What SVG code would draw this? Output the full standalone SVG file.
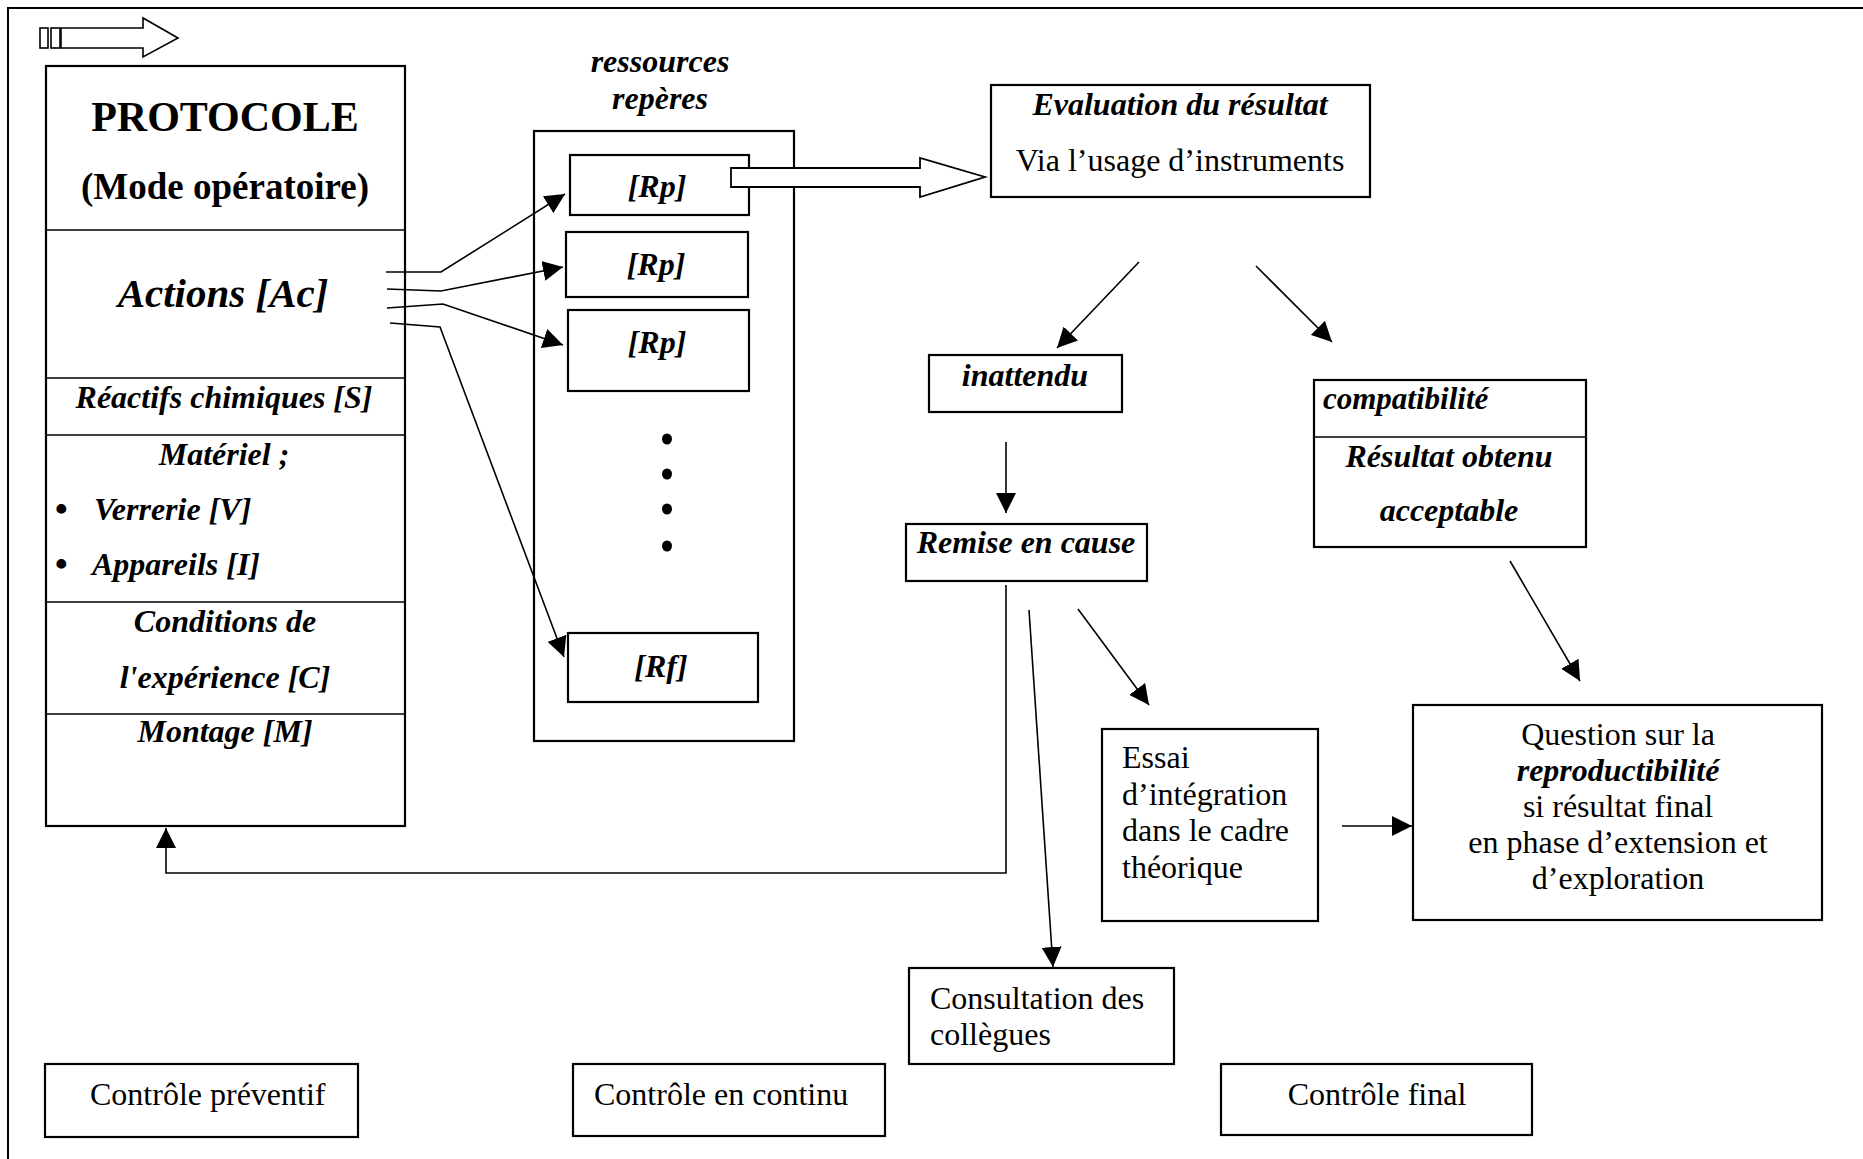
<svg xmlns="http://www.w3.org/2000/svg" width="1863" height="1159" viewBox="0 0 1863 1159">
<style>
.box{fill:#fff;stroke:#000;stroke-width:2.2}
.ln{fill:none;stroke:#000;stroke-width:1.6}
.r{font-family:"Liberation Serif","Times New Roman",serif;font-size:32px;fill:#000}
.bi{font-family:"Liberation Serif","Times New Roman",serif;font-size:32px;font-weight:bold;font-style:italic;fill:#000}
.b{font-family:"Liberation Serif","Times New Roman",serif;font-weight:bold;fill:#000}
.c{text-anchor:middle}
</style>
<defs>
<marker id="ah" markerUnits="userSpaceOnUse" markerWidth="22" markerHeight="20" refX="20" refY="10" orient="auto">
<path d="M0,0 L20,10 L0,20 z" fill="#000"/>
</marker>
</defs>
<rect width="1863" height="1159" fill="#fff"/>
<g id="frame">
<path d="M8,1159 V8 H1863" fill="none" stroke="#000" stroke-width="2"/>
</g>
<g id="start-arrow">
<rect x="40" y="28" width="8" height="20" fill="#fff" stroke="#000" stroke-width="1.6"/>
<rect x="51" y="28" width="9" height="20" fill="#fff" stroke="#000" stroke-width="1.6"/>
<path d="M61,28 H143 V18 L178,38 L143,57 V48 H61 z" fill="#fff" stroke="#000" stroke-width="1.6"/>
</g>
<g id="protocole">
<rect class="box" x="46" y="66" width="359" height="760"/>
<line class="ln" x1="46" y1="230" x2="405" y2="230" stroke-width="2.2"/>
<line class="ln" x1="46" y1="378" x2="405" y2="378" stroke-width="2.2"/>
<line class="ln" x1="46" y1="435" x2="405" y2="435" stroke-width="2.2"/>
<line class="ln" x1="46" y1="602" x2="405" y2="602" stroke-width="2.2"/>
<line class="ln" x1="46" y1="714" x2="405" y2="714" stroke-width="2.2"/>
<text class="b c" x="225" y="131" style="font-size:42px">PROTOCOLE</text>
<text class="b c" x="225" y="199" style="font-size:37px">(Mode opératoire)</text>
<text class="bi c" x="223" y="307" style="font-size:41px">Actions [Ac]</text>
<text class="bi c" x="224" y="408">Réactifs chimiques [S]</text>
<text class="bi c" x="224" y="465">Matériel ;</text>
<text class="b" x="55" y="521" style="font-size:36px">•</text>
<text class="bi" x="94" y="520">Verrerie [V]</text>
<text class="b" x="55" y="576" style="font-size:36px">•</text>
<text class="bi" x="92" y="575">Appareils [I]</text>
<text class="bi c" x="225" y="632">Conditions de</text>
<text class="bi c" x="225" y="688">l'expérience [C]</text>
<text class="bi c" x="225" y="742">Montage [M]</text>
</g>
<g id="ressources">
<text class="bi c" x="660" y="72">ressources</text>
<text class="bi c" x="660" y="109">repères</text>
<rect class="box" x="534" y="131" width="260" height="610" stroke-width="1.8"/>
</g>
<g id="rp1"><rect class="box" x="570" y="155" width="179" height="60" stroke-width="1.8"/><text class="bi c" x="657" y="197">[Rp]</text></g>
<g id="rp2"><rect class="box" x="566" y="232" width="182" height="65" stroke-width="1.8"/><text class="bi c" x="656" y="275">[Rp]</text></g>
<g id="rp3"><rect class="box" x="568" y="310" width="181" height="81" stroke-width="1.8"/><text class="bi c" x="657" y="353">[Rp]</text></g>
<g id="dots">
<ellipse cx="667" cy="439" rx="5" ry="5.5"/>
<ellipse cx="667" cy="474" rx="5" ry="5.5"/>
<ellipse cx="667" cy="509" rx="5" ry="5.5"/>
<ellipse cx="667" cy="546" rx="5" ry="5.5"/>
</g>
<g id="rf"><rect class="box" x="568" y="633" width="190" height="69" stroke-width="1.8"/><text class="bi c" x="661" y="677">[Rf]</text></g>
<g id="evaluation">
<rect class="box" x="991" y="85" width="379" height="112"/>
<text class="bi c" x="1180" y="115">Evaluation du résultat</text>
<text class="r c" x="1180" y="171">Via l’usage d’instruments</text>
</g>
<g id="inattendu">
<rect class="box" x="929" y="355" width="193" height="57"/>
<text class="bi c" x="1025" y="386">inattendu</text>
</g>
<g id="remise">
<rect class="box" x="906" y="524" width="241" height="57"/>
<text class="bi c" x="1026" y="553">Remise en cause</text>
</g>
<g id="compatibilite">
<rect class="box" x="1314" y="380" width="272" height="167"/>
<line class="ln" x1="1314" y1="437" x2="1586" y2="437" stroke-width="2.2"/>
<text class="bi" x="1323" y="409" style="font-size:31px">compatibilité</text>
<text class="bi c" x="1449" y="467">Résultat obtenu</text>
<text class="bi c" x="1449" y="521">acceptable</text>
</g>
<g id="essai">
<rect class="box" x="1102" y="729" width="216" height="192"/>
<text class="r" x="1122" y="768">Essai</text>
<text class="r" x="1122" y="805">d’intégration</text>
<text class="r" x="1122" y="841">dans le cadre</text>
<text class="r" x="1122" y="878">théorique</text>
</g>
<g id="question">
<rect class="box" x="1413" y="705" width="409" height="215"/>
<text class="r c" x="1618" y="745">Question sur la</text>
<text class="bi c" x="1618" y="781">reproductibilité</text>
<text class="r c" x="1618" y="817">si résultat final</text>
<text class="r c" x="1618" y="853">en phase d’extension et</text>
<text class="r c" x="1618" y="889">d’exploration</text>
</g>
<g id="consultation">
<rect class="box" x="909" y="968" width="265" height="96"/>
<text class="r" x="930" y="1009">Consultation des</text>
<text class="r" x="930" y="1045">collègues</text>
</g>
<g id="controle-preventif">
<rect class="box" x="45" y="1064" width="313" height="73"/>
<text class="r" x="90" y="1105">Contrôle préventif</text>
</g>
<g id="controle-continu">
<rect class="box" x="573" y="1064" width="312" height="72"/>
<text class="r" x="594" y="1105">Contrôle en continu</text>
</g>
<g id="controle-final">
<rect class="box" x="1221" y="1064" width="311" height="71"/>
<text class="r c" x="1377" y="1105">Contrôle final</text>
</g>
<g id="connectors">
<path class="ln" d="M386,272 H441 L565,194" marker-end="url(#ah)"/>
<path class="ln" d="M387,289 L441,291 L563,267" marker-end="url(#ah)"/>
<path class="ln" d="M387,308 L443,304 L563,345" marker-end="url(#ah)"/>
<path class="ln" d="M390,323 L440,327 L564,657" marker-end="url(#ah)"/>
<path d="M731,168 H920 V158 L985,177 L920,197 V187 H731 z" fill="#fff" stroke="#000" stroke-width="1.8"/>
<path class="ln" d="M1139,262 L1057,348" marker-end="url(#ah)"/>
<path class="ln" d="M1256,266 L1332,342" marker-end="url(#ah)"/>
<path class="ln" d="M1006,442 V513" marker-end="url(#ah)"/>
<path class="ln" d="M1006,585 V873 H166 V828" marker-end="url(#ah)"/>
<path class="ln" d="M1029,610 L1053,967" marker-end="url(#ah)"/>
<path class="ln" d="M1078,609 L1149,705" marker-end="url(#ah)"/>
<path class="ln" d="M1510,561 L1580,681" marker-end="url(#ah)"/>
<path class="ln" d="M1342,826 H1412" marker-end="url(#ah)"/>
</g>
</svg>
